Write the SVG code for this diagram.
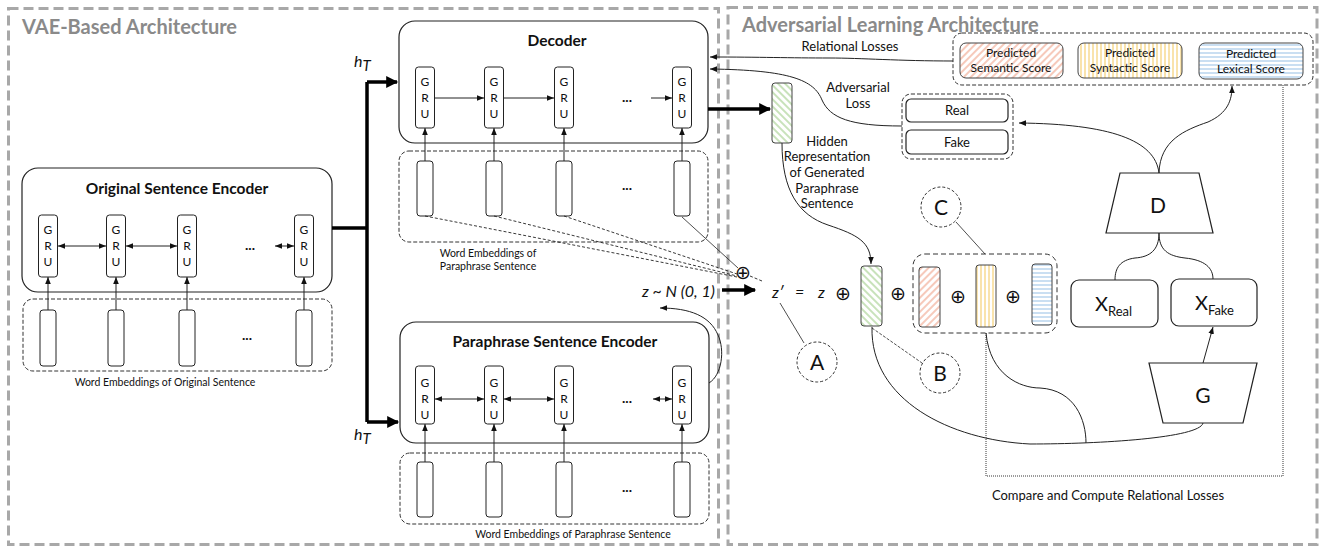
<svg xmlns="http://www.w3.org/2000/svg" width="1323" height="548" viewBox="0 0 1323 548">
<style>
text{font-family:Lato,"Open Sans","Liberation Sans",sans-serif;fill:#111}
.frame{fill:none;stroke:#a8a8a8;stroke-width:3;stroke-dasharray:10 5}
.ptitle{font-size:20px;font-weight:bold;fill:#8a8a8a}
.box{fill:#fff;stroke:#222;stroke-width:1.2}
.btitle{font-size:15.5px;font-weight:bold;text-anchor:middle}
.cell{fill:#fff;stroke:#222;stroke-width:1}
.gl{font-size:12px;text-anchor:middle}
.dbox{fill:none;stroke:#333;stroke-width:1;stroke-dasharray:4 2}
.ln{fill:none;stroke:#222;stroke-width:1}
.thick{fill:none;stroke:#000;stroke-width:3.5}
.sm{font-size:10.5px;text-anchor:middle}
.lbl{font-size:13px;text-anchor:middle}
.sc{font-size:12px;text-anchor:middle}
.dots{font-size:14px;font-weight:bold;text-anchor:middle}
.math{font-style:italic;font-size:16px}
.op{font-family:"DejaVu Sans",sans-serif;font-size:19px;text-anchor:middle}
.circ{fill:#fff;stroke:#333;stroke-width:1;stroke-dasharray:3 2}
.big{font-size:21px;text-anchor:middle}
.colr{stroke:#444;stroke-width:1}
</style>
<defs>
<marker id="ah" viewBox="0 0 10 10" refX="10" refY="5" markerWidth="7" markerHeight="7" orient="auto-start-reverse" markerUnits="userSpaceOnUse"><path d="M0,1 L10,5 L0,9 z" fill="#111"/></marker>
<marker id="ahT" viewBox="0 0 10 10" refX="9" refY="5" markerWidth="13" markerHeight="12" orient="auto" markerUnits="userSpaceOnUse"><path d="M0,0 L10,5 L0,10 z" fill="#000"/></marker>
<pattern id="pGreen" width="5" height="5" patternUnits="userSpaceOnUse" patternTransform="rotate(-45)"><rect width="5" height="5" fill="#fff"/><line x1="1" y1="0" x2="1" y2="5" stroke="#c2dfb3" stroke-width="1.8"/></pattern>
<pattern id="pPink" width="5" height="5" patternUnits="userSpaceOnUse" patternTransform="rotate(45)"><rect width="5" height="5" fill="#fff"/><line x1="1" y1="0" x2="1" y2="5" stroke="#f6c4b4" stroke-width="1.8"/></pattern>
<pattern id="pYellow" width="4" height="4" patternUnits="userSpaceOnUse"><rect width="4" height="4" fill="#fff"/><line x1="1" y1="0" x2="1" y2="4" stroke="#f8dc98" stroke-width="1.6"/></pattern>
<pattern id="pBlue" width="4" height="4" patternUnits="userSpaceOnUse"><rect width="4" height="4" fill="#fff"/><line x1="0" y1="1" x2="4" y2="1" stroke="#bdd7ef" stroke-width="1.6"/></pattern>
</defs>

<g id="frames">
<rect class="frame" x="8.5" y="8.5" width="710" height="536"/>
<rect class="frame" x="728" y="7.5" width="589" height="537"/>
<text class="ptitle" x="22" y="34">VAE-Based Architecture</text>
<text class="ptitle" x="742" y="32">Adversarial Learning Architecture</text>
</g>

<g id="original-encoder">
<rect class="box" x="22" y="168" width="310" height="124" rx="16"/>
<text class="btitle" x="177" y="194">Original Sentence Encoder</text>
<rect class="cell" x="38.5" y="215" width="19" height="62" rx="3"/><text class="gl" x="48" y="234">G</text><text class="gl" x="48" y="250">R</text><text class="gl" x="48" y="266">U</text>
<rect class="cell" x="106.5" y="215" width="19" height="62" rx="3"/><text class="gl" x="116" y="234">G</text><text class="gl" x="116" y="250">R</text><text class="gl" x="116" y="266">U</text>
<rect class="cell" x="177.5" y="215" width="19" height="62" rx="3"/><text class="gl" x="187" y="234">G</text><text class="gl" x="187" y="250">R</text><text class="gl" x="187" y="266">U</text>
<rect class="cell" x="294.5" y="215" width="19" height="62" rx="3"/><text class="gl" x="304" y="234">G</text><text class="gl" x="304" y="250">R</text><text class="gl" x="304" y="266">U</text>
<text class="dots" x="250" y="250">...</text>
</g>

<g id="original-embeddings">
<rect class="dbox" x="23" y="299" width="309" height="72" rx="10"/>
<rect class="cell" x="40" y="310" width="16" height="56" rx="3"/>
<rect class="cell" x="108" y="310" width="16" height="56" rx="3"/>
<rect class="cell" x="179" y="310" width="16" height="56" rx="3"/>
<rect class="cell" x="296" y="310" width="16" height="56" rx="3"/>
<text class="dots" x="247" y="340">...</text>
<text class="sm" x="165" y="386">Word Embeddings of Original Sentence</text>
</g>

<g id="decoder">
<rect class="box" x="399" y="21" width="309" height="122" rx="16"/>
<text class="btitle" x="557" y="46">Decoder</text>
<rect class="cell" x="415.5" y="67" width="19" height="61" rx="3"/><text class="gl" x="425" y="86">G</text><text class="gl" x="425" y="102">R</text><text class="gl" x="425" y="118">U</text>
<rect class="cell" x="484.5" y="67" width="19" height="61" rx="3"/><text class="gl" x="494" y="86">G</text><text class="gl" x="494" y="102">R</text><text class="gl" x="494" y="118">U</text>
<rect class="cell" x="554.5" y="67" width="19" height="61" rx="3"/><text class="gl" x="564" y="86">G</text><text class="gl" x="564" y="102">R</text><text class="gl" x="564" y="118">U</text>
<rect class="cell" x="672.5" y="67" width="19" height="61" rx="3"/><text class="gl" x="682" y="86">G</text><text class="gl" x="682" y="102">R</text><text class="gl" x="682" y="118">U</text>
<text class="dots" x="627" y="102">...</text>
</g>

<g id="decoder-embeddings">
<rect class="dbox" x="399" y="151" width="309" height="91" rx="10"/>
<rect class="cell" x="417" y="161" width="16" height="55" rx="3"/>
<rect class="cell" x="486" y="161" width="16" height="55" rx="3"/>
<rect class="cell" x="556" y="161" width="16" height="55" rx="3"/>
<rect class="cell" x="674" y="161" width="16" height="55" rx="3"/>
<text class="dots" x="627" y="190">...</text>
<text class="sm" x="488" y="257">Word Embeddings of</text>
<text class="sm" x="488" y="270">Paraphrase Sentence</text>
</g>

<g id="paraphrase-encoder">
<rect class="box" x="400" y="322" width="309" height="121" rx="16"/>
<text class="btitle" x="555" y="347">Paraphrase Sentence Encoder</text>
<rect class="cell" x="415.5" y="366" width="19" height="58" rx="3"/><text class="gl" x="425" y="387">G</text><text class="gl" x="425" y="403">R</text><text class="gl" x="425" y="419">U</text>
<rect class="cell" x="484.5" y="366" width="19" height="58" rx="3"/><text class="gl" x="494" y="387">G</text><text class="gl" x="494" y="403">R</text><text class="gl" x="494" y="419">U</text>
<rect class="cell" x="554.5" y="366" width="19" height="58" rx="3"/><text class="gl" x="564" y="387">G</text><text class="gl" x="564" y="403">R</text><text class="gl" x="564" y="419">U</text>
<rect class="cell" x="672.5" y="366" width="19" height="58" rx="3"/><text class="gl" x="682" y="387">G</text><text class="gl" x="682" y="403">R</text><text class="gl" x="682" y="419">U</text>
<text class="dots" x="627" y="403">...</text>
</g>

<g id="paraphrase-embeddings">
<rect class="dbox" x="400" y="453" width="309" height="71" rx="10"/>
<rect class="cell" x="417" y="462" width="16" height="55" rx="3"/>
<rect class="cell" x="486" y="462" width="16" height="55" rx="3"/>
<rect class="cell" x="556" y="462" width="16" height="55" rx="3"/>
<rect class="cell" x="674" y="462" width="16" height="55" rx="3"/>
<text class="dots" x="627" y="492">...</text>
<text class="sm" x="573" y="538">Word Embeddings of Paraphrase Sentence</text>
</g>

<g id="labels-math">
<text class="math" x="354" y="67" font-size="21">h<tspan font-size="15" dy="4">T</tspan></text>
<text class="math" x="354" y="440" font-size="21">h<tspan font-size="15" dy="4">T</tspan></text>
<text class="math" x="642" y="297">z ~ N (0, 1)</text>
<text class="op" x="743" y="279">⊕</text>
<text class="math" x="772" y="298">z′</text>
<text class="math" x="795" y="298" font-style="normal">=</text>
<text class="math" x="818" y="298">z</text>
<text class="op" x="843" y="300">⊕</text>
<text class="op" x="898" y="300">⊕</text>
<text class="op" x="958" y="303">⊕</text>
<text class="op" x="1013" y="303">⊕</text>
</g>

<g id="hidden-rep">
<rect class="colr" x="772" y="83" width="20" height="60" rx="3" fill="url(#pGreen)"/>
<text class="lbl" x="827" y="146">Hidden</text>
<text class="lbl" x="827" y="161">Representation</text>
<text class="lbl" x="827" y="177">of Generated</text>
<text class="lbl" x="827" y="193">Paraphrase</text>
<text class="lbl" x="827" y="208">Sentence</text>
</g>

<g id="concat">
<rect class="colr" x="861" y="266" width="21" height="60" rx="3" fill="url(#pGreen)"/>
<rect class="dbox" x="913" y="254" width="144" height="79" rx="12" style="stroke-dasharray:5 3"/>
<rect class="colr" x="919" y="267" width="21" height="60" rx="3" fill="url(#pPink)"/>
<rect class="colr" x="976" y="265" width="20" height="62" rx="3" fill="url(#pYellow)"/>
<rect class="colr" x="1032" y="264" width="20" height="61" rx="3" fill="url(#pBlue)"/>
</g>

<g id="circle-A"><circle class="circ" cx="817" cy="362" r="20"/><text class="big" x="817" y="370">A</text></g>
<g id="circle-B"><circle class="circ" cx="940" cy="373" r="20"/><text class="big" x="940" y="381">B</text></g>
<g id="circle-C"><circle class="circ" cx="941" cy="207" r="20"/><text class="big" x="941" y="215">C</text></g>

<g id="scores">
<rect class="dbox" x="953" y="33" width="360" height="52" rx="9"/>
<rect class="colr" x="960" y="43" width="103" height="35" rx="6" fill="url(#pPink)"/>
<text class="sc" x="1011" y="57">Predicted</text><text class="sc" x="1011" y="72">Semantic Score</text>
<rect class="colr" x="1078" y="43" width="104" height="35" rx="6" fill="url(#pYellow)"/>
<text class="sc" x="1130" y="57">Predicted</text><text class="sc" x="1130" y="72">Syntactic Score</text>
<rect class="colr" x="1199" y="43" width="104" height="36" rx="6" fill="url(#pBlue)"/>
<text class="sc" x="1251" y="58">Predicted</text><text class="sc" x="1251" y="73">Lexical Score</text>
</g>

<g id="real-fake">
<rect class="dbox" x="902" y="94" width="111" height="65" rx="9"/>
<rect class="box" x="906" y="99" width="102" height="23" rx="5"/>
<text class="lbl" x="957" y="115">Real</text>
<rect class="box" x="906" y="130" width="102" height="24" rx="5"/>
<text class="lbl" x="957" y="147">Fake</text>
</g>

<g id="D"><path class="box" d="M1120,173 L1199,173 L1213,233 L1106,233 Z"/><text class="big" x="1158" y="213">D</text></g>
<g id="G"><path class="box" d="M1149,363 L1257,363 L1243,423 L1163,423 Z"/><text class="big" x="1203" y="403">G</text></g>
<g id="x-real"><rect class="box" x="1071" y="280" width="87" height="47" rx="8"/><text x="1095" y="311" font-size="20">X<tspan font-size="13" dy="5">Real</tspan></text></g>
<g id="x-fake"><rect class="box" x="1171" y="279" width="86" height="47" rx="8"/><text x="1195" y="310" font-size="20">X<tspan font-size="13" dy="5">Fake</tspan></text></g>

<text id="compare-label" class="lbl" x="1108" y="500">Compare and Compute Relational Losses</text>

<g id="connectors">
<path class="thick" d="M332,228 L367,228"/>
<path class="thick" d="M367,82 L367,422"/>
<path class="thick" d="M367,82 L397,82" marker-end="url(#ahT)"/>
<path class="thick" d="M367,422 L398,422" marker-end="url(#ahT)"/>
<path class="thick" d="M708,109 L770,109" marker-end="url(#ahT)"/>
<path class="thick" d="M722,290 L755,290" marker-end="url(#ahT)"/>
<g class="ln" marker-end="url(#ah)">
<path d="M48,310 L48,277"/><path d="M116,310 L116,277"/><path d="M187,310 L187,277"/><path d="M304,310 L304,277"/>
<path d="M425,161 L425,128"/><path d="M494,161 L494,128"/><path d="M564,161 L564,128"/><path d="M682,161 L682,128"/>
<path d="M425,462 L425,424"/><path d="M494,462 L494,424"/><path d="M564,462 L564,424"/><path d="M682,462 L682,424"/>
<path d="M435,98 L484,98"/><path d="M504,98 L554,98"/><path d="M651,98 L672,98"/>
</g>
<g class="ln" marker-start="url(#ah)" marker-end="url(#ah)">
<path d="M58,246 L106,246"/><path d="M126,246 L177,246"/><path d="M275,246 L294,246"/>
<path d="M435,399 L484,399"/><path d="M504,399 L554,399"/><path d="M653,399 L672,399"/>
</g>
<g class="ln" style="stroke-dasharray:3 2;stroke-width:0.9">
<path d="M425,216 L737,277"/><path d="M494,216 L737,276"/><path d="M564,216 L737,274"/>
<path d="M750,276 L762,281"/>
</g>
<path class="ln" style="stroke-width:0.8" d="M682,217 L738,268"/>
<path class="ln" d="M709,383 C722,375 725,350 718,335 C710,316 690,308 660,308" marker-end="url(#ah)"/>
<path class="ln" d="M953,61 C900,61 860,58 830,58 C790,58 760,57 710,57" marker-end="url(#ah)"/>
<path class="ln" d="M902,126 C850,126 830,118 822,100 C814,80 790,70 710,69" marker-end="url(#ah)"/>
<text class="lbl" x="850" y="51" font-size="14.5">Relational Losses</text>
<text class="lbl" x="858" y="92" font-size="14.5">Adversarial</text>
<text class="lbl" x="858" y="108" font-size="14.5">Loss</text>
<path class="ln" d="M782,143 C782,190 798,215 828,225 C858,235 871,242 871,264" marker-end="url(#ah)"/>
<path class="ln" d="M1159,173 C1155,140 1110,124 1019,123" marker-end="url(#ah)"/>
<path class="ln" d="M1159,173 C1160,140 1185,130 1208,122 C1228,113 1232,100 1232,86" marker-end="url(#ah)"/>
<path class="ln" d="M1159,233 C1159,250 1150,257 1135,258 C1120,260 1115,268 1115,280"/>
<path class="ln" d="M1159,233 C1159,250 1168,256 1185,258 C1205,260 1213,268 1213,279"/>
<path class="ln" d="M1203,363 L1213,327" marker-end="url(#ah)"/>
<path class="ln" d="M872,327 C870,400 950,440 1030,444 C1100,444 1200,438 1203,423"/>
<path class="ln" d="M986,333 C990,375 1020,388 1040,388 C1075,390 1086,420 1086,443"/>
<path class="ln" style="stroke-width:0.8" d="M780,303 L804,343"/>
<path class="ln" style="stroke-width:0.8;stroke-dasharray:3 1.5" d="M872,328 L922,363"/>
<path class="ln" style="stroke-width:0.8" d="M956,222 L985,254"/>
<path class="ln" style="stroke-dasharray:1 1;stroke-width:0.9" d="M1283,85 L1283,476 L986,476 L986,333"/>
</g>
</svg>
